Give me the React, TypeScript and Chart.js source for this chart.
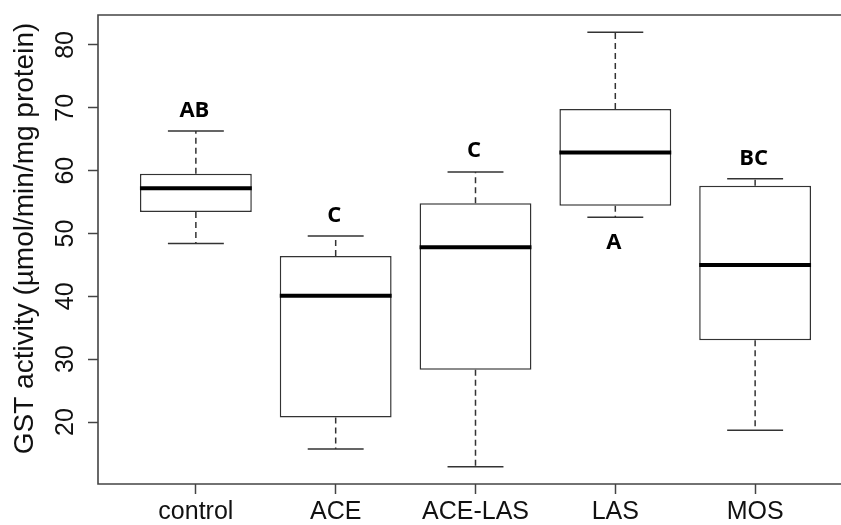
import React, { useEffect, useRef } from 'react';
import { Chart, registerables } from 'chart.js';
Chart.register(...registerables);

// ---- data ----
const categories = ['control', 'ACE', 'ACE-LAS', 'LAS', 'MOS'];
const whiskerLow = [48.4, 15.7, 12.9, 52.6, 18.7];
const q1 = [53.4, 20.7, 28.3, 54.4, 33.0];
const median = [57.2, 40.1, 47.8, 62.9, 45.0];
const q3 = [59.5, 46.4, 54.8, 69.8, 57.6];
const whiskerHigh = [66.3, 49.6, 59.8, 82.0, 58.7];
const letters = ['AB', 'C', 'C', 'A', 'BC'];
const letterY = [68.5, 51.9, 62.2, 47.6, 60.9];
const yTicks = [20, 30, 40, 50, 60, 70, 80];
const yTitle = 'GST activity (\u00B5mol/min/mg protein)';

const dataLow = Math.min(...whiskerLow);
const dataHigh = Math.max(...whiskerHigh);
const yMin = dataLow - 0.04 * (dataHigh - dataLow);
const yMax = dataHigh + 0.04 * (dataHigh - dataLow);
const xMin = 0.5 - 0.04 * categories.length;
const xMax = categories.length + 0.5 + 0.04 * categories.length;

const AXIS_FONT = '"Liberation Sans", Arial, sans-serif';

export default function App() {
  const ref = useRef<HTMLCanvasElement>(null);

  useEffect(() => {
    const canvas = ref.current!;
    const extras = {
      id: 'boxExtras',
      afterDatasetsDraw(chart: any) {
        const { ctx, chartArea, scales } = chart;
        const x = scales.x;
        const y = scales.y;
        const boxHalf = x.getPixelForValue(1.4) - x.getPixelForValue(1);
        const capHalf = x.getPixelForValue(1.2) - x.getPixelForValue(1);
        ctx.save();
        categories.forEach((_, i) => {
          const cx = x.getPixelForValue(i + 1);
          const pLow = y.getPixelForValue(whiskerLow[i]);
          const pQ1 = y.getPixelForValue(q1[i]);
          const pMed = y.getPixelForValue(median[i]);
          const pQ3 = y.getPixelForValue(q3[i]);
          const pHigh = y.getPixelForValue(whiskerHigh[i]);
          // dashed whiskers
          ctx.strokeStyle = '#333';
          ctx.lineWidth = 1.5;
          ctx.setLineDash([6, 4]);
          ctx.beginPath();
          ctx.moveTo(cx, pQ3);
          ctx.lineTo(cx, pHigh);
          ctx.moveTo(cx, pQ1);
          ctx.lineTo(cx, pLow);
          ctx.stroke();
          ctx.setLineDash([]);
          // caps
          ctx.beginPath();
          ctx.moveTo(cx - capHalf, pHigh);
          ctx.lineTo(cx + capHalf, pHigh);
          ctx.moveTo(cx - capHalf, pLow);
          ctx.lineTo(cx + capHalf, pLow);
          ctx.stroke();
          // median
          ctx.strokeStyle = '#000';
          ctx.lineWidth = 4;
          ctx.beginPath();
          ctx.moveTo(cx - boxHalf, pMed);
          ctx.lineTo(cx + boxHalf, pMed);
          ctx.stroke();
          // letters
          ctx.fillStyle = '#000';
          ctx.font = 'bold 22px "Open Sans", sans-serif';
          ctx.textAlign = 'center';
          ctx.textBaseline = 'alphabetic';
          ctx.fillText(letters[i], cx - 1.5, y.getPixelForValue(letterY[i]));
        });
        // frame (left, top, bottom; right side lies beyond the visible page)
        ctx.strokeStyle = '#444';
        ctx.lineWidth = 1.6;
        ctx.beginPath();
        ctx.moveTo(chart.width, chartArea.top);
        ctx.lineTo(chartArea.left, chartArea.top);
        ctx.lineTo(chartArea.left, chartArea.bottom);
        ctx.lineTo(chart.width, chartArea.bottom);
        ctx.stroke();
        // y tick labels (rotated)
        ctx.fillStyle = '#111';
        ctx.font = `25px ${AXIS_FONT}`;
        ctx.textAlign = 'center';
        ctx.textBaseline = 'alphabetic';
        y.ticks.forEach((t: any) => {
          const py = y.getPixelForValue(t.value);
          ctx.save();
          ctx.translate(chartArea.left - 25, py);
          ctx.rotate(-Math.PI / 2);
          ctx.fillText(String(t.value), 0, 0);
          ctx.restore();
        });
        // y title
        ctx.font = `28px ${AXIS_FONT}`;
        ctx.save();
        ctx.translate(33, (chartArea.top + chartArea.bottom) / 2 - 11);
        ctx.rotate(-Math.PI / 2);
        ctx.fillText(yTitle, 0, 0);
        ctx.restore();
        ctx.restore();
      },
    };

    const chart = new Chart(canvas, {
      type: 'bar',
      data: {
        datasets: [
          {
            data: categories.map((_, i) => ({ x: i + 1, y: [q1[i], q3[i]] })) as any,
            backgroundColor: '#ffffff',
            borderColor: '#333',
            borderWidth: 1.5,
            borderSkipped: false,
            categoryPercentage: 1,
            barPercentage: 0.8,
          },
        ],
      },
      options: {
        responsive: false,
        animation: false,
        layout: { padding: { left: 0, top: 15, right: 27, bottom: 0 } },
        plugins: { legend: { display: false }, tooltip: { enabled: false }, title: { display: false } },
        scales: {
          x: {
            type: 'linear',
            offset: false,
            min: xMin,
            max: xMax,
            afterBuildTicks: (s: any) => {
              s.ticks = categories.map((_, i) => ({ value: i + 1 }));
            },
            afterFit: (s: any) => {
              s.height = 41;
            },
            ticks: {
              callback: (v: any) => categories[Math.round(Number(v)) - 1] ?? '',
              font: { size: 25, family: AXIS_FONT },
              color: '#111',
              padding: 3,
              maxRotation: 0,
              minRotation: 0,
            },
            grid: { offset: false, drawOnChartArea: false, drawTicks: true, tickLength: 10, tickColor: '#444', tickWidth: 1.5 },
            border: { display: false },
          },
          y: {
            type: 'linear',
            min: yMin,
            max: yMax,
            afterBuildTicks: (s: any) => {
              s.ticks = yTicks.map((v) => ({ value: v }));
            },
            afterFit: (s: any) => {
              s.width = 98;
            },
            ticks: { display: false },
            grid: { drawOnChartArea: false, drawTicks: true, tickLength: 10, tickColor: '#444', tickWidth: 1.5 },
            border: { display: false },
          },
        },
      },
      plugins: [extras],
    });
    return () => chart.destroy();
  }, []);

  return (
    <div
      style={{
        position: 'fixed',
        left: 0,
        top: 0,
        width: 841,
        height: 525,
        overflow: 'hidden',
        background: '#fff',
      }}
    >
      <canvas ref={ref} width={880} height={525} style={{ display: 'block' }} />
    </div>
  );
}
